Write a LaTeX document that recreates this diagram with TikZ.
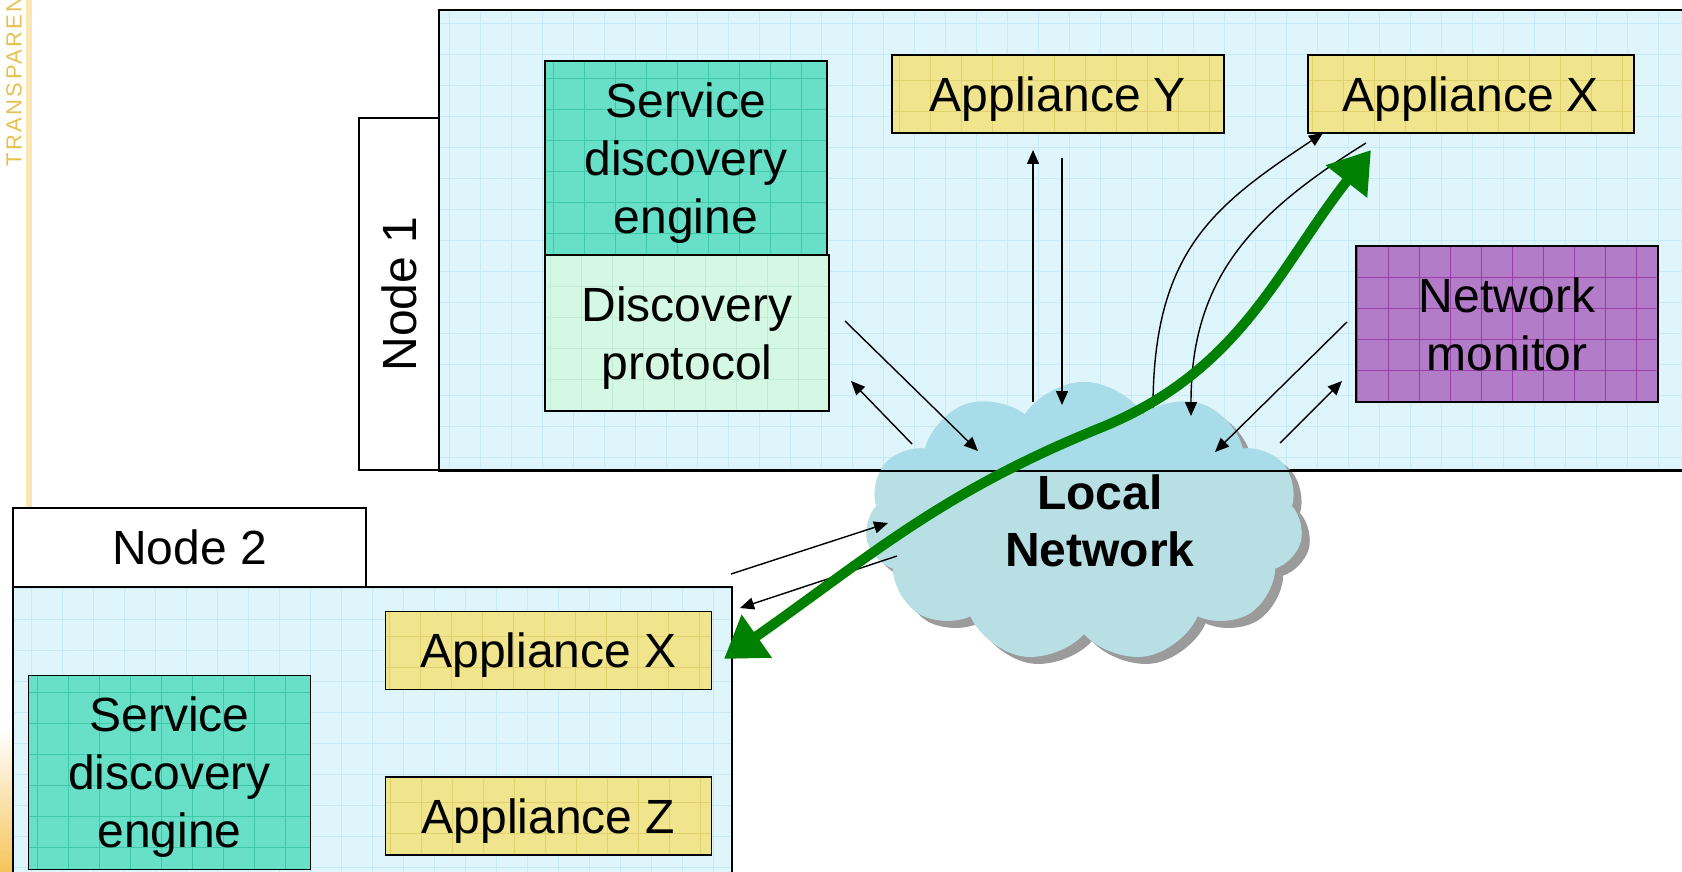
\documentclass[tikz,border=0pt]{standalone}
\usepackage{fontspec}
\setmainfont{Liberation Sans}
\newfontfamily\stampfont[LetterSpace=11]{Liberation Sans}
\usetikzlibrary{shapes.symbols,arrows.meta}
\definecolor{areabg}{RGB}{221,245,251}
\definecolor{areagrid}{RGB}{200,234,246}
\definecolor{sdefill}{RGB}{104,224,200}
\definecolor{sdegrid}{RGB}{62,202,168}
\definecolor{dpfill}{RGB}{212,248,228}
\definecolor{dpgrid}{RGB}{192,236,214}
\definecolor{appfill}{RGB}{240,228,140}
\definecolor{appgrid}{RGB}{224,208,112}
\definecolor{monfill}{RGB}{178,124,200}
\definecolor{mongrid}{RGB}{152,62,168}
\definecolor{lanfill}{RGB}{184,224,228}
\definecolor{lantint}{RGB}{168,220,232}
\definecolor{lanshade}{RGB}{155,155,155}
\definecolor{flow}{RGB}{0,128,0}
\definecolor{stamp}{RGB}{230,192,80}
\definecolor{stampline}{RGB}{250,230,178}
\definecolor{stampblob}{RGB}{246,196,90}

\begin{document}
\begin{tikzpicture}[x=0.5pt,y=-0.5pt]
    \tikzset{%
      tile/.style={path picture={\draw[#1, line width=0.4pt, step=15.5pt]
          (path picture bounding box.south west) grid
          (path picture bounding box.north east);}},
      box/.style={rectangle, draw, line width=0.8pt, inner sep=0pt,
        text depth=0pt, align=center, font=\fontsize{24}{29}\selectfont},
      area/.style={box, fill=areabg, tile=areagrid},
      tag/.style={box, fill=white},
      sde/.style={box, fill=sdefill, tile=sdegrid, minimum width=141pt,
        minimum height=97pt},
      proto/.style={box, fill=dpfill, tile=dpgrid, minimum width=142pt,
        minimum height=78pt},
      app/.style={box, fill=appfill, tile=appgrid, minimum width=163pt,
        minimum height=39pt},
      monitor/.style={box, fill=monfill, tile=mongrid, minimum width=151pt,
        minimum height=78pt},
      lan/.style={cloud, cloud puffs=11, cloud puff arc=115, aspect=1.55,
        minimum width=219pt, minimum height=140pt, inner sep=0pt},
      link/.style={-{Triangle[length=7pt,width=6pt]}, line width=0.7pt},
      flowarrow/.style={{Triangle[length=20pt,width=25pt]}-{Triangle[length=20pt,width=25pt]},
        flow, line width=5pt},
    }
    \useasboundingbox (0,0) rectangle (1682,872);
    % slide template leftovers
    \shade [top color=white, bottom color=stampblob] (0,730) rectangle (12,872);
    \draw [stampline, line width=3pt] (29,0) -- (29,872);
    \node[text=stamp, font=\stampfont\fontsize{11}{11}\selectfont, rotate=90,
      anchor=west, inner sep=0pt] (stamp) at (14,167) {TRANSPARENT};

    % node 1
    \node[area, minimum width=630.5pt, minimum height=230pt] (n1) at (1069.5,240) {};
    \node[tag, rotate=90, minimum width=176pt, minimum height=40pt] (n1tag) at (399,294) {Node 1};
    \node[sde] (sde1) at (686,158) {Service\\discovery\\engine};
    \node[proto] (dp) at (687,333) {Discovery\\protocol};
    \node[app, minimum width=166pt] (apy) at (1058,94) {Appliance Y};
    \node[app] (apx1) at (1471,94) {Appliance X};
    \node[monitor] (nm) at (1507,324) {Network\\monitor};

    % node 2
    \node[area, minimum width=359.5pt, minimum height=156.5pt] (n2) at (372.5,743.5) {};
    \node[tag, minimum width=176.5pt, minimum height=39.5pt] (n2tag) at (189.5,547.5) {Node 2};
    \node[app] (apx2) at (548.5,650.5) {Appliance X};
    \node[app] (apz) at (548.5,816) {Appliance Z};
    \node[sde] (sde2) at (169.5,772.5) {Service\\discovery\\engine};

    % local network
    \node[lan, fill=lanshade] (lanshadow) at (1092,529) {};
    \node[lan, fill=lanfill] (lan) at (1084,522) {};
    \begin{scope}
      \clip (n1.north west) rectangle (n1.south east);
      \node[lan, fill=lantint] (lantop) at (lan.center) {};
    \end{scope}
    \draw [line width=0.8pt] (n1.south west) -- (n1.south east);
    \node[font=\bfseries\fontsize{24}{28.5}\selectfont, align=center] (lantext)
      at (1100,521) {Local\\Network};

    % discovery protocol <-> network
    \coordinate (dpa) at (845,321);
    \coordinate (dpb) at (978,451);
    \coordinate (dpc) at (912,444);
    \coordinate (dpd) at (851,381);
    \draw [link] (dpa) -- (dpb);
    \draw [link] (dpc) -- (dpd);

    % appliance Y <-> network
    \coordinate (aya) at (1033,402);
    \coordinate (ayb) at (1033,150);
    \coordinate (ayc) at (1062,158);
    \coordinate (ayd) at (1062,405);
    \draw [link] (aya) -- (ayb);
    \draw [link] (ayc) -- (ayd);

    % appliance X <-> network
    \coordinate (axa) at (1153,408);
    \coordinate (axb) at (1323,133);
    \coordinate (axc) at (1366,143);
    \coordinate (axd) at (1191,416);
    \draw [link] (axa) .. controls (1153,250) and (1215,205) .. (axb);
    \draw [link] (axc) .. controls (1250,215) and (1191,280) .. (axd);

    % monitor <-> network
    \coordinate (nma) at (1347,322);
    \coordinate (nmb) at (1215,452);
    \coordinate (nmc) at (1280,443);
    \coordinate (nmd) at (1342,381);
    \draw [link] (nma) -- (nmb);
    \draw [link] (nmc) -- (nmd);

    % node 2 <-> network
    \coordinate (n2a) at (731,574);
    \coordinate (n2b) at (888,523);
    \coordinate (n2c) at (897,556);
    \coordinate (n2d) at (740,608);
    \draw [link] (n2a) -- (n2b);
    \draw [link] (n2c) -- (n2d);

    % appliance X to appliance X
    \coordinate (gb) at (724,659);
    \coordinate (gm) at (1100,428);
    \coordinate (gt) at (1371,150);
    \draw [flowarrow] (gb) to[out=35, in=202] (gm) to[out=22, in=232] (gt);
  \end{tikzpicture}
\end{document}
